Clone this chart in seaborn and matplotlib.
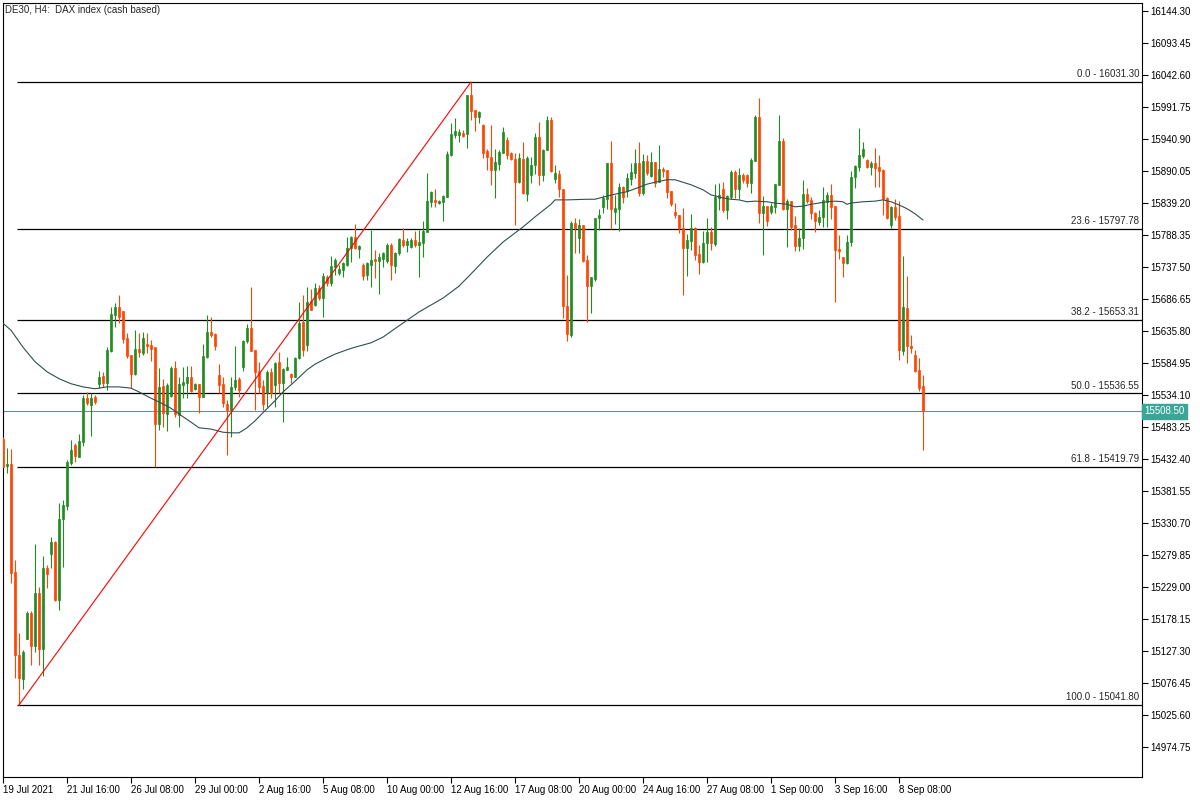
import matplotlib

matplotlib.use("Agg")
import matplotlib.pyplot as plt
import matplotlib.transforms as mtransforms
import numpy as np
import pandas as pd
import seaborn as sns

# H4 bars, 19 Jul 2021 00:00 .. 9 Sep 2021 08:00
opens = [
    15464, 15421, 15425, 15253, 15121, 15083, 15147, 15188, 15135, 15220,
    15131, 15259, 15282, 15301, 15209, 15337, 15358, 15426, 15455, 15436,
    15459, 15529, 15518, 15531, 15552, 15564, 15553, 15604, 15661, 15674,
    15668, 15625, 15598, 15567, 15607, 15601, 15615, 15613, 15610, 15488,
    15548, 15504, 15533, 15577, 15502, 15550, 15553, 15563, 15544, 15552,
    15531, 15594, 15634, 15631, 15566, 15552, 15520, 15510, 15547, 15559,
    15579, 15620, 15640, 15606, 15572, 15548, 15537, 15571, 15550, 15586,
    15553, 15574, 15567, 15563, 15593, 15650, 15613, 15683, 15677, 15704,
    15688, 15721, 15712, 15737, 15728, 15733, 15741, 15768, 15785, 15766,
    15741, 15725, 15741, 15750, 15747, 15750, 15747, 15772, 15739, 15760,
    15780, 15772, 15769, 15780, 15772, 15775, 15793, 15841, 15844, 15839,
    15841, 15849, 15915, 15947, 15947, 15950, 15949, 16011, 15987, 15976,
    15963, 15922, 15912, 15891, 15901, 15918, 15939, 15918, 15909, 15872,
    15909, 15853, 15884, 15899, 15944, 15884, 15923, 15971, 15877, 15885,
    15861, 15676, 15629, 15807, 15783, 15804, 15748, 15707, 15718, 15815,
    15833, 15845, 15903, 15825, 15830, 15864, 15858, 15877, 15887, 15903,
    15855, 15906, 15882, 15904, 15872, 15893, 15891, 15858, 15825, 15820,
    15799, 15768, 15779, 15799, 15758, 15745, 15775, 15793, 15774, 15847,
    15861, 15828, 15849, 15888, 15861, 15884, 15884, 15871, 15906, 15976,
    15823, 15834, 15825, 15833, 15868, 15937, 15830, 15842, 15804, 15771,
    15783, 15853, 15844, 15823, 15809, 15817, 15841, 15852, 15834, 15766,
    15753, 15744, 15777, 15880, 15896, 15914, 15907, 15896, 15903, 15896,
    15891, 15847, 15804, 15833, 15818, 15604, 15672, 15612, 15598, 15574,
    15548,
]
highs = [
    15467, 15450, 15448, 15272, 15156, 15129, 15191, 15191, 15297, 15229,
    15278, 15264, 15309, 15302, 15363, 15367, 15431, 15463, 15458, 15472,
    15534, 15539, 15537, 15534, 15572, 15571, 15610, 15674, 15680, 15693,
    15668, 15633, 15598, 15637, 15633, 15634, 15633, 15621, 15610, 15577,
    15559, 15553, 15580, 15588, 15563, 15579, 15580, 15580, 15553, 15552,
    15615, 15661, 15658, 15633, 15583, 15563, 15526, 15563, 15612, 15563,
    15621, 15647, 15706, 15606, 15586, 15558, 15574, 15577, 15586, 15602,
    15577, 15594, 15569, 15594, 15682, 15693, 15706, 15702, 15712, 15709,
    15728, 15725, 15755, 15752, 15741, 15745, 15785, 15787, 15806, 15772,
    15744, 15745, 15796, 15764, 15760, 15761, 15775, 15775, 15761, 15783,
    15799, 15783, 15783, 15795, 15796, 15810, 15887, 15858, 15861, 15844,
    15852, 15922, 15966, 15974, 15957, 15955, 16011, 16031.3, 15987, 15985,
    15964, 15925, 15963, 15925, 15923, 15960, 15944, 15920, 15918, 15918,
    15936, 15914, 15912, 15950, 15968, 15925, 15977, 15976, 15899, 15891,
    15861, 15725, 15810, 15815, 15814, 15804, 15756, 15721, 15815, 15830,
    15852, 15903, 15937, 15852, 15871, 15866, 15887, 15903, 15925, 15936,
    15917, 15915, 15920, 15904, 15931, 15896, 15891, 15858, 15839, 15820,
    15831, 15790, 15822, 15801, 15772, 15795, 15815, 15801, 15869, 15871,
    15872, 15852, 15891, 15891, 15895, 15886, 15885, 15911, 15979, 16006,
    15850, 15834, 15839, 15869, 15979, 15942, 15845, 15842, 15818, 15799,
    15876, 15863, 15849, 15825, 15828, 15864, 15857, 15869, 15834, 15788,
    15753, 15788, 15890, 15899, 15958, 15936, 15909, 15906, 15926, 15915,
    15893, 15849, 15834, 15845, 15842, 15755, 15723, 15629, 15606, 15593,
    15566,
]
lows = [
    15420, 15410, 15236, 15085, 15041.8, 15067, 15147, 15105, 15126, 15105,
    15088, 15228, 15259, 15207, 15193, 15261, 15352, 15423, 15428, 15436,
    15453, 15518, 15469, 15520, 15545, 15547, 15542, 15602, 15642, 15648,
    15617, 15593, 15545, 15566, 15594, 15598, 15601, 15588, 15420, 15478,
    15483, 15477, 15531, 15499, 15483, 15529, 15529, 15539, 15542, 15505,
    15531, 15593, 15626, 15606, 15537, 15515, 15439, 15467, 15542, 15531,
    15572, 15617, 15604, 15510, 15537, 15510, 15515, 15529, 15515, 15537,
    15491, 15574, 15553, 15563, 15591, 15596, 15604, 15669, 15675, 15685,
    15658, 15707, 15707, 15725, 15725, 15721, 15739, 15745, 15766, 15752,
    15717, 15717, 15706, 15720, 15694, 15737, 15744, 15717, 15728, 15756,
    15769, 15761, 15768, 15769, 15721, 15753, 15793, 15833, 15833, 15837,
    15810, 15849, 15914, 15942, 15936, 15944, 15926, 15971, 15953, 15966,
    15911, 15891, 15868, 15847, 15891, 15918, 15909, 15907, 15804, 15871,
    15853, 15842, 15871, 15885, 15868, 15874, 15923, 15888, 15871, 15849,
    15656, 15620, 15626, 15760, 15760, 15745, 15650, 15664, 15715, 15796,
    15823, 15830, 15798, 15806, 15795, 15839, 15849, 15868, 15879, 15850,
    15852, 15884, 15880, 15864, 15872, 15880, 15847, 15835, 15815, 15791,
    15693, 15723, 15764, 15748, 15726, 15744, 15745, 15764, 15771, 15828,
    15825, 15814, 15845, 15847, 15845, 15871, 15864, 15855, 15906, 15807,
    15756, 15802, 15822, 15823, 15868, 15828, 15769, 15796, 15763, 15763,
    15766, 15839, 15814, 15793, 15804, 15801, 15801, 15814, 15682, 15750,
    15721, 15742, 15771, 15863, 15890, 15911, 15894, 15884, 15864, 15864,
    15820, 15814, 15799, 15812, 15590, 15598, 15585, 15601, 15571, 15540,
    15447,
]
closes = [
    15420, 15425, 15251, 15121, 15085, 15126, 15188, 15135, 15220, 15131,
    15259, 15250, 15301, 15209, 15337, 15359, 15428, 15447, 15437, 15461,
    15529, 15521, 15529, 15523, 15563, 15553, 15606, 15663, 15674, 15658,
    15623, 15596, 15567, 15607, 15602, 15625, 15612, 15607, 15488, 15547,
    15505, 15550, 15577, 15504, 15552, 15555, 15563, 15540, 15552, 15531,
    15596, 15634, 15629, 15612, 15550, 15521, 15510, 15547, 15558, 15542,
    15620, 15640, 15604, 15571, 15547, 15520, 15571, 15537, 15585, 15553,
    15575, 15579, 15563, 15593, 15648, 15606, 15682, 15669, 15704, 15688,
    15723, 15712, 15739, 15748, 15734, 15744, 15768, 15785, 15768, 15771,
    15723, 15744, 15748, 15747, 15753, 15760, 15772, 15741, 15760, 15782,
    15772, 15779, 15780, 15772, 15777, 15795, 15842, 15857, 15841, 15842,
    15850, 15917, 15949, 15953, 15952, 15945, 16011, 15985, 15976, 15984,
    15918, 15912, 15891, 15904, 15920, 15952, 15915, 15909, 15872, 15911,
    15855, 15911, 15899, 15944, 15884, 15923, 15971, 15890, 15887, 15861,
    15676, 15631, 15807, 15799, 15804, 15747, 15707, 15721, 15815, 15820,
    15847, 15903, 15830, 15831, 15864, 15849, 15879, 15888, 15903, 15855,
    15906, 15887, 15904, 15871, 15893, 15890, 15857, 15837, 15820, 15799,
    15768, 15780, 15799, 15756, 15745, 15775, 15793, 15775, 15849, 15852,
    15828, 15850, 15888, 15861, 15884, 15876, 15871, 15907, 15976, 15823,
    15834, 15810, 15834, 15869, 15937, 15830, 15842, 15801, 15771, 15783,
    15853, 15842, 15823, 15810, 15817, 15844, 15852, 15833, 15764, 15763,
    15744, 15777, 15880, 15898, 15915, 15925, 15896, 15903, 15895, 15890,
    15845, 15815, 15833, 15817, 15606, 15674, 15612, 15609, 15572, 15545,
    15508.5,
]

# moving average line, read at selected bars
ma_bar = [
    0, 2, 5, 8, 11, 14, 17, 20, 23, 26, 29, 32, 34, 37, 40, 42, 44, 47, 49, 52,
    55, 57, 59, 61, 63, 65, 68, 70, 73, 76, 78, 81, 83, 86, 88, 92, 95, 99, 104,
    110, 114, 118, 121, 125, 130, 133, 137, 138, 141, 146, 148, 151, 153, 156,
    159, 161, 163, 166, 168, 170, 172, 175, 177, 180, 182, 184, 186, 188, 191,
    193, 196, 198, 200, 202, 206, 208, 210, 211, 212, 215, 218, 220, 222, 224,
    226, 228, 230,
]
ma_value = [
    15648, 15637, 15610, 15587, 15571, 15560, 15552, 15547, 15544, 15547, 15547,
    15545, 15539, 15529, 15520, 15513, 15504, 15491, 15482, 15480, 15475, 15474,
    15474, 15482, 15493, 15506, 15525, 15539, 15556, 15574, 15583, 15593, 15599,
    15606, 15610, 15617, 15626, 15644, 15666, 15688, 15707, 15733, 15753, 15777,
    15801, 15817, 15837, 15844, 15844, 15845, 15845, 15850, 15853, 15857, 15864,
    15869, 15872, 15876, 15876, 15872, 15868, 15860, 15852, 15847, 15845, 15844,
    15841, 15842, 15841, 15839, 15837, 15833, 15834, 15837, 15841, 15842, 15841,
    15837, 15839, 15841, 15842, 15844, 15841, 15836, 15830, 15822, 15812,
]

fib_pct = ["0.0", "23.6", "38.2", "50.0", "61.8", "100.0"]
fib_price = [16031.30, 15797.78, 15653.31, 15536.55, 15419.79, 15041.80]
swing_low_bar, swing_high_bar = 4, 117

price_ticks = [
    16144.30, 16093.45, 16042.60, 15991.75, 15940.90, 15890.05, 15839.20,
    15788.35, 15737.50, 15686.65, 15635.80, 15584.95, 15534.10, 15483.25,
    15432.40, 15381.55, 15330.70, 15279.85, 15229.00, 15178.15, 15127.30,
    15076.45, 15025.60, 14974.75,
]
date_ticks = [0, 16, 32, 48, 64, 80, 96, 112, 128, 144, 160, 176, 192, 208, 224]
date_labels = [
    "19 Jul 2021", "21 Jul 16:00", "26 Jul 08:00", "29 Jul 00:00", "2 Aug 16:00",
    "5 Aug 08:00", "10 Aug 00:00", "12 Aug 16:00", "17 Aug 08:00", "20 Aug 00:00",
    "24 Aug 16:00", "27 Aug 08:00", "1 Sep 00:00", "3 Sep 16:00", "8 Sep 08:00",
]

GREEN = "#228B22"
RED = "#FF4500"
MA_COLOR = "#2F4F4F"
BID = "#3CA597"
FS = 7

df = pd.DataFrame({"open": opens, "high": highs, "low": lows, "close": closes})
df["bar"] = np.arange(len(df))
up = df["close"] >= df["open"]
colors = np.where(up, GREEN, RED)

sns.set_style("white")
plt.rcParams["font.family"] = ["Liberation Sans", "DejaVu Sans"]

fig = plt.figure(figsize=(12, 8), dpi=100)
ax = fig.add_axes([3 / 1200, 23 / 800, 1139 / 1200, 774 / 800])

# candles
ax.vlines(df["bar"], df["low"], df["high"], colors=colors, linewidth=0.8, zorder=3)
body_low = df[["open", "close"]].min(axis=1)
body_h = (df["close"] - df["open"]).abs().clip(lower=1.6)
ax.bar(df["bar"], body_h, bottom=body_low, width=0.62, color=colors,
       edgecolor=colors, linewidth=0.5, zorder=4)

# moving average
sns.lineplot(x=ma_bar, y=ma_value, ax=ax, color=MA_COLOR, linewidth=0.8, zorder=5)

# fibonacci levels
x_right = 284.75
ax.hlines(fib_price, 3.5, x_right, colors="black", linewidth=0.9, zorder=2)
for pct, price in zip(fib_pct, fib_price):
    ax.annotate(f"{pct} - {price:.2f}", xy=(x_right, price), xytext=(-2, 2),
                textcoords="offset points", ha="right", va="bottom", fontsize=FS)
ax.plot([swing_low_bar, swing_high_bar], [fib_price[-1], fib_price[0]],
        color="red", linewidth=0.8, zorder=6)

# current price
last = closes[-1]
ax.axhline(last, color=BID, linewidth=0.8, zorder=1)
trans = mtransforms.blended_transform_factory(ax.transAxes, ax.transData)
ax.text(1.002, last, f"{last:.2f}", transform=trans, ha="left", va="center",
        color="white", fontsize=FS, zorder=10, clip_on=False,
        bbox=dict(boxstyle="square,pad=0.25", facecolor=BID, edgecolor=BID))

ax.set_xlim(0, x_right)
ax.set_ylim(14927.4, 16156.7)

ax.yaxis.tick_right()
ax.set_yticks(price_ticks)
ax.set_yticklabels([f"{p:.2f}" for p in price_ticks])
ax.set_xticks(date_ticks)
ax.set_xticklabels(date_labels)
for lbl in ax.get_xticklabels():
    lbl.set_horizontalalignment("left")
ax.tick_params(axis="both", direction="out", length=4, width=0.8, labelsize=FS,
               colors="black", pad=2)
ax.tick_params(axis="y", left=False, right=True)
ax.tick_params(axis="x", bottom=True)
for sp in ax.spines.values():
    sp.set_color("black")
    sp.set_linewidth(0.8)
    sp.set_visible(True)
ax.set_xlabel("")
ax.set_ylabel("")
if ax.get_legend() is not None:
    ax.get_legend().remove()

fig.text(5 / 1200, 1 - 10 / 800, "DE30, H4:  DAX index (cash based)",
         ha="left", va="center", fontsize=FS)

fig.savefig("out.png", dpi=100, facecolor="white")
plt.close(fig)
